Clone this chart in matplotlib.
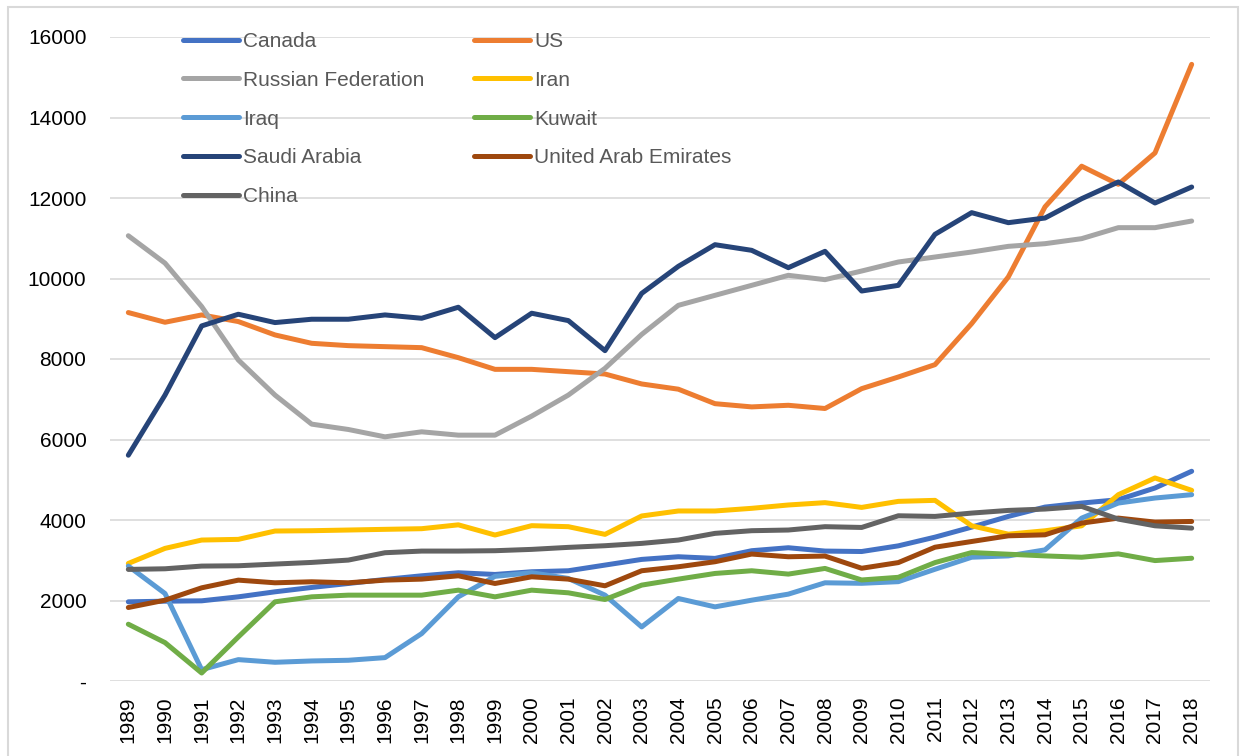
"""Line chart: series by country, 1989-2018."""
import numpy as np
import matplotlib
matplotlib.use('Agg')
import matplotlib.pyplot as plt
from matplotlib.patches import Rectangle

years = [str(y) for y in range(1989, 2019)]

canada = [1967, 1983, 1992, 2091, 2216, 2324, 2423, 2523, 2614, 2689, 2647, 2714, 2739, 2880, 3021,
          3087, 3046, 3237, 3311, 3228, 3217, 3358, 3574, 3823, 4089, 4321, 4421, 4504, 4795, 5211]
us = [9154, 8913, 9095, 8930, 8598, 8390, 8332, 8307, 8282, 8033, 7743, 7743, 7685, 7627, 7380,
      7250, 6890, 6810, 6850, 6770, 7263, 7553, 7860, 8880, 10040, 11780, 12790, 12340, 13120, 15320]
russia = [11062, 10382, 9303, 7975, 7104, 6382, 6249, 6066, 6191, 6108, 6108, 6581, 7104, 7768, 8610,
          9333, 9582, 9830, 10079, 9971, 10186, 10410, 10534, 10658, 10799, 10865, 10990, 11263, 11263, 11428]
iran = [2921, 3295, 3502, 3519, 3726, 3734, 3751, 3768, 3784, 3880, 3627, 3859, 3834, 3643, 4100,
        4224, 4224, 4290, 4373, 4431, 4313, 4463, 4488, 3856, 3648, 3732, 3856, 4629, 5044, 4737]
iraq = [2855, 2174, 282, 531, 465, 498, 515, 581, 1178, 2091, 2600, 2690, 2548, 2133, 1344,
        2050, 1842, 2008, 2158, 2440, 2427, 2468, 2776, 3075, 3108, 3258, 4047, 4421, 4546, 4629]
kuwait = [1411, 954, 199, 1095, 1967, 2091, 2133, 2133, 2133, 2257, 2091, 2257, 2191, 2025, 2382,
          2531, 2672, 2739, 2656, 2797, 2510, 2576, 2942, 3191, 3150, 3108, 3075, 3158, 2992, 3050]
saudi = [5610, 7104, 8822, 9112, 8905, 8988, 8988, 9095, 9012, 9286, 8531, 9137, 8954, 8207, 9630,
         10302, 10840, 10700, 10269, 10675, 9689, 9830, 11098, 11636, 11387, 11503, 11983, 12398, 11876, 12273]
uae = [1826, 2008, 2315, 2506, 2440, 2465, 2440, 2506, 2531, 2614, 2423, 2589, 2531, 2365, 2739,
       2838, 2963, 3154, 3087, 3104, 2801, 2942, 3324, 3466, 3607, 3632, 3923, 4047, 3948, 3964]
china = [2772, 2788, 2855, 2863, 2905, 2946, 3004, 3187, 3228, 3228, 3237, 3270, 3320, 3361, 3419,
         3502, 3668, 3734, 3751, 3834, 3815, 4105, 4089, 4172, 4238, 4272, 4338, 4022, 3856, 3798]

names = ['Canada', 'US', 'Russian Federation', 'Iran', 'Iraq', 'Kuwait', 'Saudi Arabia',
         'United Arab Emirates', 'China']
series = [canada, us, russia, iran, iraq, kuwait, saudi, uae, china]
colors = ['#4472C4', '#ED7D31', '#A5A5A5', '#FFC000', '#5B9BD5', '#70AD47', '#264478',
          '#9E480E', '#636363']

yticks = [0, 2000, 4000, 6000, 8000, 10000, 12000, 14000, 16000]
ytick_labels = ['-'] + [str(v) for v in yticks[1:]]

plt.rcParams['font.family'] = ['Liberation Sans', 'DejaVu Sans']
W, H = 1243, 756
fig = plt.figure(figsize=(W / 100, H / 100), dpi=100)
ax = fig.add_axes([110 / W, 1 - 681 / H, 1100 / W, 644 / H])

x = np.arange(len(years))
lines = {}
for name, vals, c in zip(names, series, colors):
    ln, = ax.plot(x, vals, color=c, lw=3.6, solid_capstyle='round', solid_joinstyle='round', label=name)
    lines[name] = ln

ax.set_xlim(-0.5, len(years) - 0.5)
ax.set_ylim(0, 16000)
ax.set_yticks(yticks)
ax.set_yticklabels(ytick_labels)
ax.set_xticks(x)
ax.set_xticklabels(years, rotation=90)
ax.tick_params(axis='y', length=0, pad=17, labelsize=15)
ax.tick_params(axis='x', length=0, pad=11, labelsize=15)
ax.grid(axis='y', color='#D9D9D9', lw=1.2)
ax.set_axisbelow(True)
for s in ax.spines.values():
    s.set_visible(False)

# legend laid out row-wise in two columns, as in the source
col1 = ['Canada', 'Russian Federation', 'Iraq', 'Saudi Arabia', 'China']
col2 = ['US', 'Iran', 'Kuwait', 'United Arab Emirates']
kw = dict(frameon=False, fontsize=15, handlelength=2.7, handletextpad=0.2, labelspacing=0.95,
          labelcolor='#595959', loc='upper left', borderaxespad=0, borderpad=0)
top = (681 - 32) / 644
leg1 = ax.legend([lines[n] for n in col1], col1, bbox_to_anchor=((183 - 110) / 1100, top), **kw)
ax.add_artist(leg1)
ax.legend([lines[n] for n in col2], col2, bbox_to_anchor=((474 - 110) / 1100, top), **kw)

fig.patches.append(Rectangle((8 / W, -0.05), 1230 / W, 1.05 - 7 / H, transform=fig.transFigure,
                             fill=False, edgecolor='#D9D9D9', lw=1.5))

plt.savefig('out.png', dpi=100)
